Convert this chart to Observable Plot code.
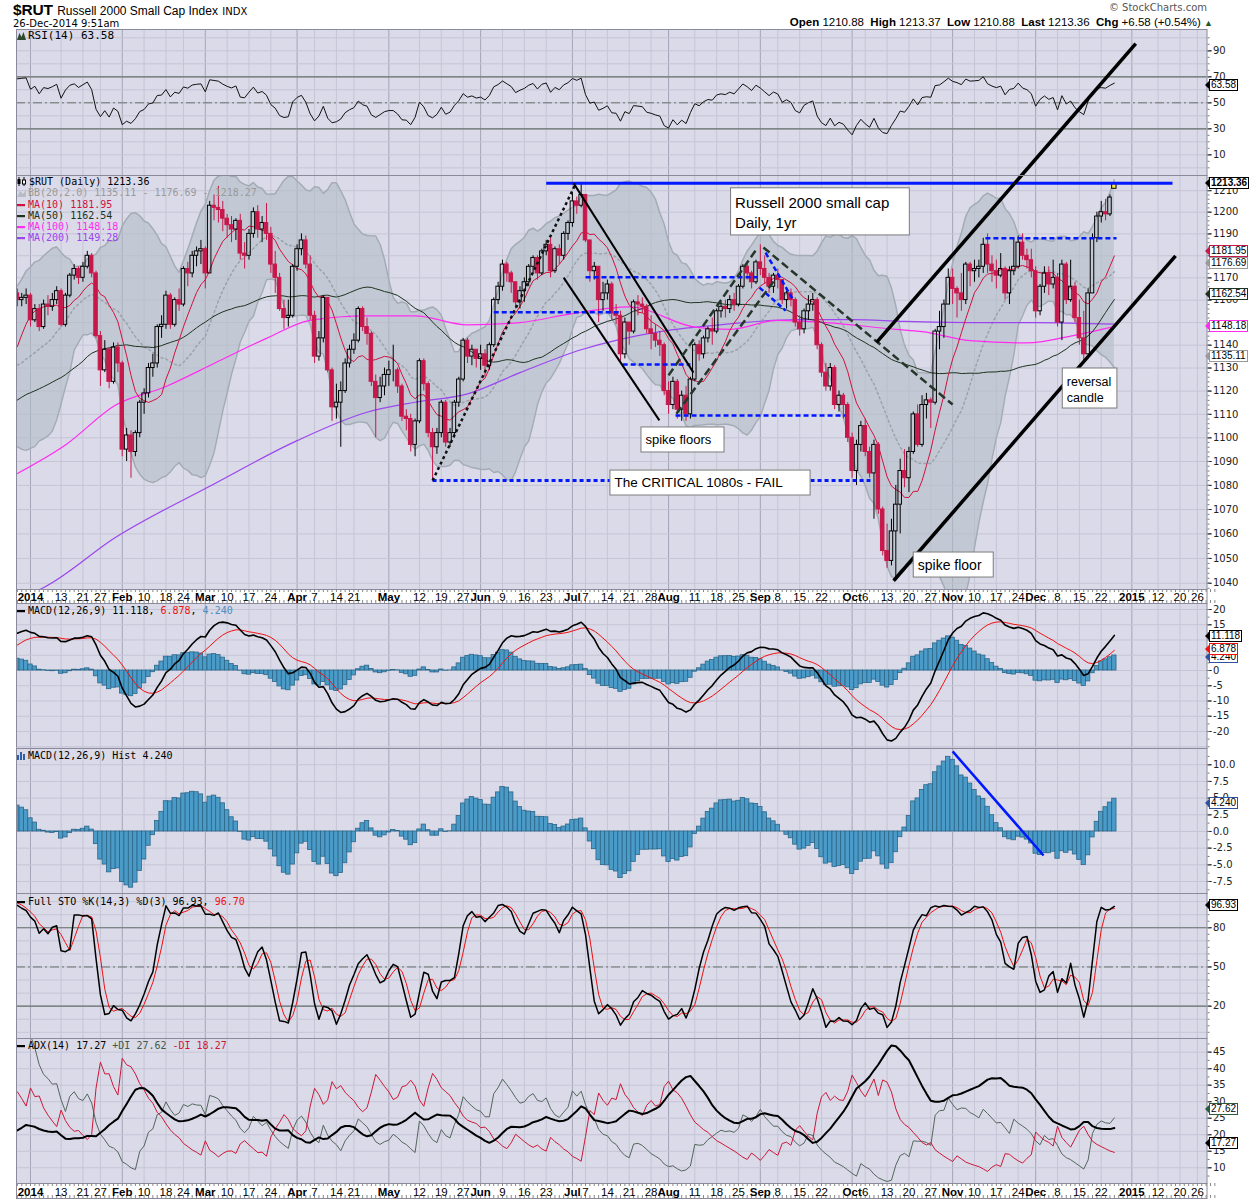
<!DOCTYPE html>
<html><head><meta charset="utf-8">
<script src="https://cdn.jsdelivr.net/npm/d3@7"></script>
<script src="https://cdn.jsdelivr.net/npm/@observablehq/plot@0.6"></script>
<style>
html,body{margin:0;padding:0;background:#fff;}
#wrap{position:relative;width:1250px;height:1200px;overflow:hidden;font-family:"Liberation Sans",Arial,sans-serif;}
#wrap svg{position:absolute;left:0;}
.hd{position:absolute;white-space:nowrap;color:#000;}
.leg{position:absolute;left:17px;font-family:"DejaVu Sans Mono",monospace;font-size:10px;line-height:11.3px;white-space:nowrap;color:#000;}
.leg svg{position:static !important;display:inline-block;vertical-align:-1px;margin-right:2px;}
.tag{position:absolute;left:1209px;font-family:"Liberation Sans",Arial,sans-serif;font-size:10px;line-height:10px;padding:0 1px;background:#fff;border:1px solid #000;transform:translateY(-50%);white-space:nowrap;color:#000;}
.tag:before{content:"";position:absolute;left:-5px;top:50%;margin-top:-4px;border-style:solid;border-width:4px 4px 4px 0;border-color:transparent;border-right-color:inherit;}
</style></head>
<body><div id="wrap"></div>
<script>
const wrap = document.getElementById("wrap");

// ================= DATA =================
const holidays = ["2014-01-01","2014-01-20","2014-02-17","2014-04-18","2014-05-26","2014-07-04","2014-09-01","2014-11-27","2014-12-25","2015-01-01","2015-01-19"];

// closes Oct 14 2013 .. Dec 26 2013 (warm-up for the indicators, not drawn)
const preClose = [1080,1072,1090,1100,1105,1110,1116,1105,1112,1110,1108,1113,1102,1100,
1096,1102,1100,1097,1080,1099,1100,1096,1110,1112,1112,1100,1096,1090,1112,1118,1120,1129,1131,1143,
1128,1125,1125,1117,1128,1128,1122,1110,1106,1109,1115,1113,1136,1137,1150,1153,1158,1163];

// daily closes Dec 27 2013 .. Dec 26 2014
const close = [1160,1161,1162,
1151,1156,1148,1158,1157,1160,1164,1149,1162,1171,1174,1170,1175,1180,1172,1144,1129,1138,1124,1139,1132,
1095,1101,1094,1102,1115,1119,1130,1132,1148,1149,1162,1149,1160,1158,1174,1172,1180,1182,1183,
1172,1203,1202,1201,1197,1194,1192,1196,1181,1180,1190,1200,1192,1195,1190,1176,1170,1156,1152,1153,1175,
1183,1187,1176,1153,1135,1143,1161,1129,1113,1115,1120,1132,1138,1142,1156,1148,1145,1124,1117,1122,1127,
1129,1129,1122,1109,1108,1097,1107,1133,1123,1102,1096,1102,1115,1098,1102,1115,1125,1142,1135,1138,1134,
1136,1131,1140,1160,1166,1176,1172,1168,1159,1164,1168,1175,1179,1172,1182,1185,1173,1183,1180,1190,1195,
1205,1203,1208,1187,1173,1175,1160,1163,1167,1154,1153,1136,1150,1146,1159,1158,1157,1147,1145,1142,1140,1120,
1114,1124,1112,1118,1110,1125,1140,1136,1143,1147,1146,1155,1157,1156,1160,1158,1166,1175,1172,1168,1177,
1174,1170,1166,1171,1169,1160,1163,1160,1150,1147,1155,1158,1160,1140,1128,1122,1130,1114,1118,1114,1100,
1086,1097,1105,1094,1085,1097,1070,1053,1049,1061,1072,1086,1083,1094,1110,1097,1114,1116,1115,1146,1148,1158,1170,
1165,1163,1160,1176,1173,1174,1175,1185,1176,1173,1171,1174,1163,1173,1175,1186,1180,1178,1173,
1155,1166,1172,1167,1170,1150,1176,1160,1166,1152,1143,1136,1163,1188,1198,1200,1199,1206.78,1213.36];

const high = [1165,1163,1165,
1163,1158,1158,1160,1162,1163,1166,1165,1163,1172,1176,1175,1177,1182,1181,1173,1146,1142,1139,1141,1141,
1133,1104,1103,1103,1116,1121,1132,1136,1149,1153,1164,1163,1161,1165,1175,1177,1182,1184,1187,
1184,1205,1208,1212,1205,1199,1198,1197,1199,1186,1192,1202,1203,1198,1204,1193,1182,1172,1160,1160,1176,
1185,1190,1189,1180,1155,1146,1162,1161,1130,1123,1124,1134,1140,1145,1157,1157,1152,1146,1127,1126,1130,
1133,1140,1130,1123,1112,1110,1108,1134,1134,1124,1104,1104,1116,1116,1104,1116,1126,1143,1143,1140,1138,
1140,1138,1141,1161,1168,1178,1177,1173,1168,1166,1170,1176,1180,1180,1183,1187,1188,1184,1185,1191,1196,
1209,1207,1213,1208,1187,1177,1170,1168,1169,1168,1158,1155,1152,1150,1160,1162,1161,1158,1153,1149,1146,1141,
1124,1126,1125,1120,1122,1126,1141,1142,1144,1148,1152,1156,1159,1160,1162,1163,1167,1176,1177,1173,1178,
1185,1180,1172,1172,1174,1169,1164,1165,1161,1153,1156,1162,1163,1161,1141,1132,1132,1131,1120,1119,1115,
1102,1099,1107,1108,1096,1099,1098,1071,1064,1066,1080,1091,1095,1096,1111,1114,1118,1119,1117,1147,1155,1160,1174,
1174,1166,1172,1177,1177,1178,1178,1188,1190,1180,1178,1181,1175,1175,1188,1189,1190,1183,1183,
1175,1167,1175,1175,1178,1172,1178,1177,1178,1168,1160,1155,1165,1190,1200,1205,1206,1208,1213.37];

const low = [1157,1157,1158,
1148,1150,1146,1147,1153,1155,1158,1148,1148,1161,1169,1167,1168,1174,1170,1143,1122,1128,1121,1123,1128,
1092,1090,1083,1092,1100,1110,1117,1126,1130,1143,1147,1147,1148,1155,1157,1166,1170,1175,1176,
1165,1172,1196,1195,1191,1188,1186,1187,1178,1174,1178,1188,1188,1186,1187,1172,1163,1155,1147,1148,1152,
1173,1180,1174,1151,1132,1133,1141,1128,1107,1108,1096,1119,1130,1136,1141,1146,1140,1122,1100,1115,1118,
1122,1124,1119,1107,1103,1094,1092,1106,1120,1100,1082,1093,1100,1096,1096,1101,1113,1124,1132,1131,1130,
1129,1126,1129,1139,1158,1164,1168,1163,1156,1156,1159,1166,1172,1169,1171,1180,1170,1172,1176,1178,1187,
1193,1199,1202,1186,1168,1169,1150,1155,1160,1151,1149,1133,1134,1140,1145,1153,1154,1145,1138,1139,1135,1118,
1110,1112,1108,1107,1107,1108,1124,1133,1134,1141,1140,1145,1152,1152,1154,1155,1157,1165,1169,1165,1167,
1171,1167,1163,1163,1165,1158,1156,1157,1148,1144,1145,1151,1155,1138,1126,1120,1120,1112,1111,1108,1098,
1083,1080,1094,1092,1083,1066,1068,1051,1046,1047,1041,1060,1079,1077,1093,1096,1096,1108,1104,1114,1138,1143,1158,
1158,1152,1155,1158,1166,1168,1170,1172,1172,1168,1165,1170,1160,1158,1171,1174,1178,1174,1170,
1152,1153,1163,1162,1165,1148,1142,1158,1159,1150,1140,1132,1136,1163,1186,1195,1196,1198,1210.88];

const lastOpen = 1210.88;

// long moving averages: [trading-day index, value]
const ma100Pts = [[-3,1085],[8,1097],[19.5,1114],[31,1122],[42,1132],[54,1143],[64,1151],[77,1153],[88,1153],[100,1149],[112,1150],[124,1154],[137,1157],[152,1148],[160,1147],[171,1151],[182,1150],[198,1147],[204,1146],[215,1142],[228,1141],[238,1144],[248,1148.18]];
const ma200Pts = [[-3,1034],[2.7,1038],[19.5,1058.6],[42,1080.6],[61,1098.8],[77,1110.9],[88,1115.2],[100,1118.8],[112,1128],[126,1138],[144,1146],[160,1149.4],[175,1151.3],[188,1151.3],[200,1150.5],[215,1150],[230,1150],[248,1149.28]];

const tickDates = ["2014-01-02","2014-01-13","2014-01-21","2014-01-27","2014-02-03","2014-02-10","2014-02-18","2014-02-24","2014-03-03","2014-03-10","2014-03-17","2014-03-24","2014-04-01","2014-04-07","2014-04-14","2014-04-21","2014-05-01","2014-05-12","2014-05-19","2014-05-27","2014-06-02","2014-06-09","2014-06-16","2014-06-23","2014-07-01","2014-07-07","2014-07-14","2014-07-21","2014-07-28","2014-08-01","2014-08-11","2014-08-18","2014-08-25","2014-09-02","2014-09-08","2014-09-15","2014-09-22","2014-10-01","2014-10-06","2014-10-13","2014-10-20","2014-10-27","2014-11-03","2014-11-10","2014-11-17","2014-11-24","2014-12-01","2014-12-08","2014-12-15","2014-12-22","2015-01-02","2015-01-12","2015-01-20","2015-01-26"];
const tickLabels = ["2014","13","21","27","Feb","10","18","24","Mar","10","17","24","Apr","7","14","21","May","12","19","27","Jun","9","16","23","Jul","7","14","21","28","Aug","11","18","25","Sep","8","15","22","Oct","6","13","20","27","Nov","10","17","24","Dec","8","15","22","2015","12","20","26"];

// right-axis labels
const priceLabels = [1040,1050,1060,1070,1080,1090,1100,1110,1120,1130,1140,1160,1170,1190,1200,1210];
const rsiLabels = [10,30,50,70,90];
const macdLabels = [-20,-15,-10,-5,0,15,20];
const histLabels = [-7.5,-5,-2.5,0,2.5,5,7.5,10];
const stoLabels = [20,50,80];
const adxLabels = [10,15,20,25,30,35,40,45];

// hand-drawn annotations [index1, value1, index2, value2]
const resistLine = [[118,1213.5,261.3,1213.5]];
const criticalLine = [[92,1082,192.2,1082]];
const blueDashLines = [[106,1154.6,134.6,1154.6],[127,1170.3,166.4,1170.3],[135.5,1131.5,151,1131.5],[147.6,1109.5,186.5,1109.5],[218.5,1188,248.5,1188],[168.2,1181.4,174.6,1159.8],[166.8,1165.6,172.8,1155.3]];
const dottedUp = [[92,1082,124.7,1213]];
const downChannel = [[124.3,1213.4,151.7,1128],[122,1170.1,143.9,1107.4]];
const dashedLines = [[146,1126.8,166.4,1183.8],[147.8,1110.3,170.5,1169.7],[167.7,1183.8,211,1114.2]];
const upChannel = [[193.6,1141.2,252.9,1280.6],[197.5,1041,262,1180]];
const histLine = [[211,12.0,231.8,-3.6]];
const notes = [
  {text:"Russell 2000 small cap\nDaily, 1yr", i1:160.3, i2:201.2, p1:1189.3, p2:1211.1},
  {text:"spike floors", i1:139.8, i2:158.8, p1:1093.8, p2:1104.4},
  {text:"The CRITICAL 1080s - FAIL", i1:132.7, i2:178.5, p1:1075.8, p2:1086.2},
  {text:"spike floor", i1:202.1, i2:220.4, p1:1042.3, p2:1052.4},
  {text:"reversal\ncandle", i1:236.2, i2:248.7, p1:1112.5, p2:1129.8}
];

// ================= CALENDAR =================
const days = [];
for (let t = Date.UTC(2013,11,27); t <= Date.UTC(2015,0,31); t += 864e5) {
  const d = new Date(t), wd = d.getUTCDay(), s = d.toISOString().slice(0,10);
  if (wd === 0 || wd === 6 || holidays.includes(s)) continue;
  days.push(s);
}
const idxOf = s => days.indexOf(s) - 3;
const dayIdx = days.map((d,k) => k - 3);
const ticks = tickDates.map((d,j) => ({i: idxOf(d), label: tickLabels[j], bold: isNaN(+tickLabels[j]) || tickLabels[j].length === 4}));

// ================= INDICATORS =================
const N = preClose.length;
const C = preClose.concat(close), H = preClose.concat(high), L = preClose.concat(low);
const n = C.length;
function sma(a,j,w){let s=0,m=0;for(let t=Math.max(0,j-w+1);t<=j;t++){s+=a[t];m++;}return s/m;}
function sdev(a,j,w){const mu=sma(a,j,w);let s=0,m=0;for(let t=Math.max(0,j-w+1);t<=j;t++){s+=(a[t]-mu)**2;m++;}return Math.sqrt(s/m);}
function ema(a,w){const k=2/(w+1),o=[a[0]];for(let j=1;j<a.length;j++)o.push(o[j-1]+k*(a[j]-o[j-1]));return o;}
const e12 = ema(C,12), e26 = ema(C,26);
const macd = C.map((_,j) => e12[j]-e26[j]);
const sig = ema(macd,9);
const rsi = [50]; {let ag=0, al=0;
  for (let j=1;j<n;j++){const ch=C[j]-C[j-1],g=Math.max(ch,0),l=Math.max(-ch,0);
    if(j<=14){ag+=g/14;al+=l/14;}else{ag=(ag*13+g)/14;al=(al*13+l)/14;}
    rsi.push(al===0?100:100-100/(1+ag/al));}}
const fk = C.map((c,j)=>{let hh=-Infinity,ll=Infinity;for(let t=Math.max(0,j-13);t<=j;t++){hh=Math.max(hh,H[t]);ll=Math.min(ll,L[t]);}return hh===ll?50:100*(c-ll)/(hh-ll);});
const sk = fk.map((_,j)=>sma(fk,j,3));
const sdd = sk.map((_,j)=>sma(sk,j,3));
const pdi=[0], mdi=[0], adxA=[0]; {let atr=0,sp=0,sm=0,adx=0;
  for(let j=1;j<n;j++){
    const tr=Math.max(H[j]-L[j],Math.abs(H[j]-C[j-1]),Math.abs(L[j]-C[j-1]));
    const up=H[j]-H[j-1], dn=L[j-1]-L[j];
    const p=(up>dn&&up>0)?up:0, m=(dn>up&&dn>0)?dn:0;
    if(j<=14){atr+=tr;sp+=p;sm+=m;}else{atr=atr-atr/14+tr;sp=sp-sp/14+p;sm=sm-sm/14+m;}
    const P=atr?100*sp/atr:0, M=atr?100*sm/atr:0;
    const dx=(P+M)?100*Math.abs(P-M)/(P+M):0;
    adx = j<=14 ? dx : (adx*13+dx)/14;
    pdi.push(P); mdi.push(M); adxA.push(adx);
  }}
const rows = close.map((c,k)=>{const j=N+k; const o = k===close.length-1 ? lastOpen : C[j-1];
  const m20=sma(C,j,20), s20=sdev(C,j,20);
  return {i:k-3,o,h:high[k],l:low[k],c,top:Math.max(o,c),bot:Math.min(o,c),up:c>=C[j-1],last:k===close.length-1,
    ma10:sma(C,j,10),ma50:sma(C,j,50),bbM:m20,bbU:m20+2*s20,bbL:m20-2*s20,
    rsi:rsi[j],macd:macd[j],sig:sig[j],hist:macd[j]-sig[j],k:sk[j],d:sdd[j],adx:adxA[j],pdi:pdi[j],mdi:mdi[j]};});
const upR = rows.filter(r=>r.up && !r.last), dnR = rows.filter(r=>!r.up && !r.last), lastR = rows.filter(r=>r.last);

// ================= DRAWING =================
const X0=-3.2, X1=269.2, W=1250, ML=16, MR=43.5;
const BG="#dadae8", GRID="#c5c5d7", MGRID="#a4a4b8", FRAME="#8a8a9c", RED="#c8174a";
const vgrid = () => [Plot.ruleX(ticks.filter(t=>!t.bold),{x:"i",stroke:GRID}), Plot.ruleX(ticks.filter(t=>t.bold),{x:"i",stroke:MGRID})];
const seg = (a,o) => Plot.link(a,{x1:d=>d[0],y1:d=>d[1],x2:d=>d[2],y2:d=>d[3],...o});
function raxis(vals, fmt, major, minor){
  const m=[Plot.axisY({anchor:"right",ticks:major,tickFormat:()=>"",tickSize:4,color:"#555",label:null}),
           Plot.axisY({anchor:"right",ticks:vals,tickFormat:fmt,tickSize:4,tickPadding:2,fontSize:10,fontFamily:"DejaVu Sans",color:"#222",label:null})];
  if(minor) m.push(Plot.axisY({anchor:"right",ticks:minor,tickFormat:()=>"",tickSize:2,color:"#777",label:null}));
  return m;
}
function panel(top, height, yopt, marks){
  const svg = Plot.plot({width:W,height,marginLeft:ML,marginRight:MR,marginTop:0,marginBottom:0,
    x:{domain:[X0,X1],axis:null}, y:{...yopt,axis:null},
    style:{background:"transparent",overflow:"visible"},
    marks:[Plot.frame({fill:BG}), ...vgrid(), ...marks, Plot.frame({stroke:FRAME})]});
  svg.style.top = top+"px";
  wrap.appendChild(svg);
  return svg;
}
function band(top, height){
  const svg = Plot.plot({width:W,height,marginLeft:ML,marginRight:MR,marginTop:0,marginBottom:0,
    x:{domain:[X0,X1],axis:null}, y:{domain:[0,1],axis:null},
    style:{background:"transparent",overflow:"visible"},
    marks:[
      Plot.tickX(dayIdx,{x:d=>d,stroke:"#888",insetBottom:height-3}),
      Plot.tickX(dayIdx,{x:d=>d,stroke:"#888",insetTop:height-3}),
      Plot.text(ticks.filter(t=>t.bold),{x:"i",text:"label",frameAnchor:"middle",dy:1,fontWeight:"bold",fontSize:11.5,fontFamily:"Liberation Sans",fill:"#000"}),
      Plot.text(ticks.filter(t=>!t.bold),{x:"i",text:"label",frameAnchor:"middle",dy:1,fontSize:11.5,fontFamily:"Liberation Sans",fill:"#000"}),
      Plot.frame({stroke:FRAME})
    ]});
  svg.style.top = top+"px";
  wrap.appendChild(svg);
  return svg;
}
const rng = (a,b,s) => d3.range(a,b+s/2,s);
const refLines = (solid, dash) => [Plot.ruleY(solid,{stroke:"#66706a",strokeWidth:1.2}), Plot.ruleY(dash,{stroke:"#66706a",strokeDasharray:"9,3,2,3"})];
const plain = d => String(d);

// RSI
const pRSI = panel(29, 146, {domain:[-5.9,106.4]}, [
  Plot.ruleY(rng(0,100,10),{stroke:GRID}),
  ...refLines([30,70],[50]),
  Plot.line(rows,{x:"i",y:"rsi",stroke:"#111",strokeWidth:1,clip:true}),
  ...raxis(rsiLabels, plain, rng(10,90,20), rng(0,100,5))
]);

// PRICE
const bb = {x:"i",clip:true};
const pPrice = panel(175, 414, {type:"log",domain:[1037.5,1217.1]}, [
  Plot.ruleY(rng(1040,1210,10),{stroke:GRID}),
  Plot.areaY(rows,{...bb,y1:"bbL",y2:"bbU",fill:"#b0bcc3",fillOpacity:0.55}),
  Plot.line(rows,{...bb,y:"bbU",stroke:"#a3acb4"}),
  Plot.line(rows,{...bb,y:"bbL",stroke:"#a3acb4"}),
  Plot.line(rows,{...bb,y:"bbM",stroke:"#9ca2aa",strokeDasharray:"2,3"}),
  Plot.line(ma200Pts,{x:d=>d[0],y:d=>d[1],stroke:"#9b45ef",strokeWidth:1.2,curve:"monotone-x",clip:true}),
  Plot.line(ma100Pts,{x:d=>d[0],y:d=>d[1],stroke:"#ff2cf0",strokeWidth:1.2,curve:"monotone-x",clip:true}),
  Plot.line(rows,{...bb,y:"ma50",stroke:"#1d321f",strokeWidth:1}),
  Plot.line(rows,{...bb,y:"ma10",stroke:"#d2103e",strokeWidth:1}),
  Plot.ruleX(upR,{x:"i",y1:"h",y2:"top",stroke:"#000",clip:true}),
  Plot.ruleX(upR,{x:"i",y1:"bot",y2:"l",stroke:"#000",clip:true}),
  Plot.ruleX(dnR,{x:"i",y1:"h",y2:"top",stroke:RED,clip:true}),
  Plot.ruleX(dnR,{x:"i",y1:"bot",y2:"l",stroke:RED,clip:true}),
  Plot.rect(upR,{x1:d=>d.i-0.4,x2:d=>d.i+0.4,y1:"bot",y2:"top",fill:"none",stroke:"#000",clip:true}),
  Plot.rect(dnR,{x1:d=>d.i-0.4,x2:d=>d.i+0.4,y1:"bot",y2:"top",fill:RED,stroke:RED,clip:true}),
  Plot.ruleX(lastR,{x:"i",y1:"l",y2:"h",stroke:"#000",clip:true}),
  Plot.rect(lastR,{x1:d=>d.i-0.5,x2:d=>d.i+0.5,y1:"bot",y2:"top",fill:"#ffe54a",stroke:"#000",clip:true}),
  seg(resistLine,{stroke:"#0018ff",strokeWidth:3}),
  seg(criticalLine,{stroke:"#0018ff",strokeWidth:3,strokeDasharray:"4,3"}),
  seg(blueDashLines,{stroke:"#0018ff",strokeWidth:2.5,strokeDasharray:"5,3"}),
  seg(dottedUp,{stroke:"#111",strokeWidth:2.5,strokeDasharray:"3,3"}),
  seg(downChannel,{stroke:"#000",strokeWidth:2}),
  seg(dashedLines,{stroke:"#26362a",strokeWidth:2.5,strokeDasharray:"8,4"}),
  seg(upChannel,{stroke:"#000",strokeWidth:3.5}),
  Plot.rect(notes,{x1:"i1",x2:"i2",y1:"p1",y2:"p2",fill:"#fff",stroke:"#7c7c7c"}),
  Plot.text([notes[0]],{x:"i1",y:d=>Math.sqrt(d.p1*d.p2),text:"text",textAnchor:"start",dx:4,lineAnchor:"middle",lineHeight:1.35,fontSize:15,fontFamily:"Liberation Sans",fill:"#000"}),
  Plot.text([notes[1]],{x:"i1",y:d=>Math.sqrt(d.p1*d.p2),text:"text",textAnchor:"start",dx:4,lineAnchor:"middle",fontSize:13,fontFamily:"Liberation Sans",fill:"#000"}),
  Plot.text([notes[2]],{x:"i1",y:d=>Math.sqrt(d.p1*d.p2),text:"text",textAnchor:"start",dx:4,lineAnchor:"middle",fontSize:13.5,fontFamily:"Liberation Sans",fill:"#000"}),
  Plot.text([notes[3]],{x:"i1",y:d=>Math.sqrt(d.p1*d.p2),text:"text",textAnchor:"start",dx:4,lineAnchor:"middle",fontSize:14,fontFamily:"Liberation Sans",fill:"#000"}),
  Plot.text([notes[4]],{x:"i1",y:d=>Math.sqrt(d.p1*d.p2),text:"text",textAnchor:"start",dx:4,lineAnchor:"middle",lineHeight:1.3,fontSize:12.5,fontFamily:"Liberation Sans",fill:"#000"}),
  ...raxis(priceLabels, plain, rng(1040,1210,10), rng(1038,1216,2))
]);

band(589, 14);

// MACD
const histBar = {x1:d=>d.i-0.5,x2:d=>d.i+0.5,y1:()=>0,y2:"hist",fill:"#4b9bc9",stroke:"#2b6688",strokeWidth:0.8,clip:true};
const pMACD = panel(603, 145, {domain:[-25.57,21.97]}, [
  Plot.ruleY(rng(-25,20,5),{stroke:GRID}),
  Plot.rect(rows,histBar),
  Plot.line(rows,{x:"i",y:"sig",stroke:"#f01010",strokeWidth:1,clip:true}),
  Plot.line(rows,{x:"i",y:"macd",stroke:"#000",strokeWidth:1.6,clip:true}),
  ...raxis(macdLabels, plain, rng(-20,20,5), rng(-25,20,2.5))
]);

// MACD HIST
const pHist = panel(748, 145, {domain:[-9.30,12.44]}, [
  Plot.ruleY(rng(-7.5,12.5,2.5),{stroke:GRID}),
  Plot.rect(rows,histBar),
  seg(histLine,{stroke:"#0018ff",strokeWidth:2.5}),
  ...raxis(histLabels, d=>d.toFixed(1), rng(-7.5,10,2.5), rng(-8.75,11.25,1.25))
]);

// STO
const pSTO = panel(893, 145, {domain:[-4.74,106.2]}, [
  Plot.ruleY(rng(0,100,10),{stroke:GRID}),
  ...refLines([20,80],[50]),
  Plot.line(rows,{x:"i",y:"d",stroke:"#f01010",strokeWidth:1,clip:true}),
  Plot.line(rows,{x:"i",y:"k",stroke:"#000",strokeWidth:1.5,clip:true}),
  ...raxis(stoLabels, plain, [20,50,80], rng(0,100,5))
]);

// ADX
const pADX = panel(1038, 145, {domain:[5.24,49.14]}, [
  Plot.ruleY(rng(10,45,5),{stroke:GRID}),
  Plot.line(rows,{x:"i",y:"pdi",stroke:"#53665c",strokeWidth:1,clip:true}),
  Plot.line(rows,{x:"i",y:"mdi",stroke:"#cc1838",strokeWidth:1,clip:true}),
  Plot.line(rows,{x:"i",y:"adx",stroke:"#000",strokeWidth:2,clip:true}),
  ...raxis(adxLabels, plain, rng(10,45,5), rng(7.5,47.5,2.5))
]);

band(1183, 15);

// ================= TEXT OVERLAYS =================
function div(cls, html, style){const d=document.createElement("div");d.className=cls;d.innerHTML=html;Object.assign(d.style,style||{});wrap.appendChild(d);return d;}
function tag(svg, top, v, label, color, bold){
  const y = svg.scale("y").apply(v);
  div("tag", label, {top:(top+y)+"px", borderColor:color, fontWeight:bold?"bold":"normal", borderWidth:bold?"1.5px":"1px"});
}
const ln = c => `<svg width="9" height="8"><rect x="0" y="3" width="8" height="2.2" fill="${c}"/></svg>`;

div("hd", '<b style="font-size:15.5px;letter-spacing:-0.2px">$RUT</b> <span style="font-size:12px">Russell 2000 Small Cap Index</span> <span style="font-family:\'DejaVu Sans\';font-size:10px">INDX</span>', {left:"13px",top:"1px"});
div("hd", '26-Dec-2014 9:51am', {left:"13px",top:"18px",fontFamily:"DejaVu Sans",fontSize:"10px"});
div("hd", '&copy; StockCharts.com', {right:"43px",top:"2px",color:"#555",fontFamily:"DejaVu Sans",fontSize:"10px"});
div("hd", '<b>Open</b> 1210.88 &nbsp;<b>High</b> 1213.37 &nbsp;<b>Low</b> 1210.88 &nbsp;<b>Last</b> 1213.36 &nbsp;<b>Chg</b> +6.58 (+0.54%) <span style="color:#255a25;font-size:9px">&#9650;</span>', {right:"37px",top:"16px",fontSize:"11.5px"});

div("leg", '<svg width="9" height="9"><path d="M0 9 L2.5 2 L4.5 6 L6.5 1 L9 9Z" fill="#2e4a2e"/></svg>RSI(14) 63.58', {top:"30px",fontSize:"11px"});
div("leg",
  '<svg width="10" height="9"><path d="M2 0V9M7 0V9" stroke="#000"/><rect x="0.5" y="2" width="3" height="5" fill="#000"/><rect x="5.5" y="3" width="3" height="4" fill="#fff" stroke="#000"/></svg>$RUT (Daily) 1213.36<br>'+
  '<span style="color:#9a9a9a"><svg width="9" height="8"><path d="M0 8 L3 2 L6 5 L9 1 L9 8Z" fill="#b8bcc4"/></svg>BB(20,2.0) 1135.11 - 1176.69 - 1218.27</span><br>'+
  `<span style="color:#d2103e">${ln("#d2103e")}MA(10) 1181.95</span><br>`+
  `<span style="color:#1d321f">${ln("#1d321f")}MA(50) 1162.54</span><br>`+
  `<span style="color:#ff2cf0">${ln("#ff2cf0")}MA(100) 1148.18</span><br>`+
  `<span style="color:#9b45ef">${ln("#9b45ef")}MA(200) 1149.28</span>`, {top:"176px"});
div("leg", `${ln("#000")}MACD(12,26,9) 11.118, <span style="color:#f01010">6.878</span>, <span style="color:#4b8fc0">4.240</span>`, {top:"605px"});
div("leg", '<svg width="9" height="9"><rect x="0" y="4" width="2" height="5" fill="#2d5fa8"/><rect x="3" y="1" width="2" height="8" fill="#2d5fa8"/><rect x="6" y="3" width="2" height="6" fill="#2d5fa8"/></svg>MACD(12,26,9) Hist 4.240', {top:"750px"});
div("leg", `${ln("#000")}Full STO %K(14,3) %D(3) 96.93, <span style="color:#f01010">96.70</span>`, {top:"896px"});
div("leg", `${ln("#000")}ADX(14) 17.27 <span style="color:#3f5a48">+DI 27.62</span> <span style="color:#cc1838">-DI 18.27</span>`, {top:"1040px"});

tag(pRSI, 29, 63.58, "63.58", "#000");
tag(pPrice, 175, 1176.69, "1176.69", "#999");
tag(pPrice, 175, 1135.11, "1135.11", "#999");
tag(pPrice, 175, 1162.54, "1162.54", "#1d321f");
tag(pPrice, 175, 1148.18, "1148.18", "#ff2cf0");
tag(pPrice, 175, 1181.95, "1181.95", "#c8174a");
tag(pPrice, 175, 1213.36, "1213.36", "#000", true);
tag(pMACD, 603, 4.24, "4.240", "#3050a0");
tag(pMACD, 603, 6.878, "6.878", "#f01010");
tag(pMACD, 603, 11.118, "11.118", "#000");
tag(pHist, 748, 4.24, "4.240", "#3050a0");
tag(pSTO, 893, 96.93, "96.93", "#000");
tag(pADX, 1038, 17.27, "17.27", "#000");
tag(pADX, 1038, 27.62, "27.62", "#2d5a3a");
</script>
</body></html>
